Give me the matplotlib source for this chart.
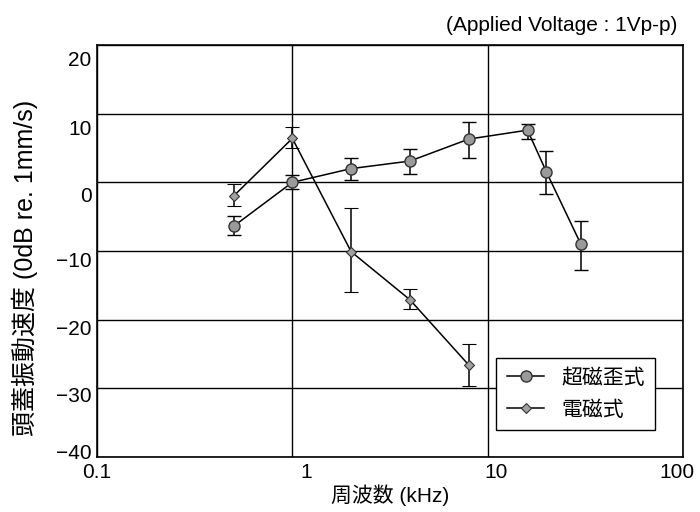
import matplotlib
matplotlib.use("Agg")
import matplotlib.pyplot as plt
import matplotlib.transforms as mtransforms
import numpy as np

plt.rcParams['font.family'] = ['Liberation Sans', 'Noto Sans CJK JP']

# 超磁歪式 (giant magnetostrictive)
freq_gm = [0.5, 1.0, 2.0, 4.0, 8.0, 16.0, 20.0, 30.0]
val_gm = [-6.4, 0.0, 2.0, 3.1, 6.3, 7.6, 1.5, -9.0]
err_hi_gm = [-4.9, 1.0, 3.6, 4.8, 8.8, 8.5, 4.5, -5.6]
err_lo_gm = [-7.6, -0.9, 0.4, 1.2, 3.5, 6.3, -1.7, -12.7]

# 電磁式 (electromagnetic)
freq_em = [0.5, 1.0, 2.0, 4.0, 8.0]
val_em = [-2.0, 6.4, -10.1, -17.1, -26.6]
err_hi_em = [-0.3, 8.0, -3.8, -15.5, -23.6]
err_lo_em = [-3.5, 5.0, -15.9, -18.5, -29.6]

xticks = [0.1, 1, 10, 100]
xticklabels = ['0.1', '1', '10', '100']
yticks = [-40, -30, -20, -10, 0, 10, 20]

fig = plt.figure(figsize=(7.0, 5.12), dpi=100)
ax = fig.add_axes([0.1386, 0.1074, 0.8371, 0.8047])

def yerr(v, hi, lo):
    v = np.array(v); return [v - np.array(lo), np.array(hi) - v]

c1 = ax.errorbar(freq_gm, val_gm, yerr=yerr(val_gm, err_hi_gm, err_lo_gm),
                 color='black', lw=1.1, elinewidth=1.1, capsize=5, capthick=1.1,
                 marker='o', markersize=8, markerfacecolor='#9a9a9a',
                 markeredgecolor='#333333', markeredgewidth=1.0, zorder=3)
c2 = ax.errorbar(freq_em, val_em, yerr=yerr(val_em, err_hi_em, err_lo_em),
                 color='black', lw=1.1, elinewidth=1.1, capsize=5, capthick=1.1,
                 marker='D', markersize=5, markerfacecolor='#a0a0a0',
                 markeredgecolor='#333333', markeredgewidth=0.8, zorder=3)

ax.set_xscale('log')
ax.set_xlim(0.1, 100)
ax.set_ylim(-40, 20)
ax.set_xticks(xticks)
ax.set_xticklabels(xticklabels)
ax.xaxis.set_minor_locator(matplotlib.ticker.NullLocator())
ax.set_yticks(yticks)
ax.set_yticklabels([str(t).replace('-', '−') for t in yticks])
ax.tick_params(axis='both', length=0, labelsize=15, pad=4)

# small label offsets (pixels, positive = down) mimicking the scanned original
y_shift_px = [-6, 6, 8, 8, 12, 14, 13]
for lbl, dy in zip(ax.get_yticklabels(), y_shift_px):
    lbl.set_transform(lbl.get_transform() +
                      mtransforms.ScaledTranslation(0, -dy / 100, fig.dpi_scale_trans))
x_shift_px = [0, 14, 8, -6]
for lbl, dx in zip(ax.get_xticklabels(), x_shift_px):
    lbl.set_transform(lbl.get_transform() +
                      mtransforms.ScaledTranslation(dx / 100, 0, fig.dpi_scale_trans))

ax.grid(True, color='black', lw=1.0)
for s in ax.spines.values():
    s.set_linewidth(1.2)

ax.set_xlabel('周波数 (kHz)', fontsize=15, labelpad=2)
ax.set_ylabel('頭蓋振動速度 (0dB re. 1mm/s)', fontsize=18)
ax.yaxis.set_label_coords(-0.1, 0.46)

fig.text(0.967, 0.951, '(Applied Voltage : 1Vp-p)', ha='right', va='center', fontsize=15)

leg = ax.legend(handles=[c1[0], c2[0]], labels=['超磁歪式', '電磁式'],
                loc='lower right', bbox_to_anchor=(0.97, 0.04), fontsize=15,
                frameon=True, fancybox=False, edgecolor='black', framealpha=1,
                handlelength=1.8, borderpad=0.5, labelspacing=0.6)
leg.get_frame().set_linewidth(1.0)

fig.savefig('out.png', dpi=100)
